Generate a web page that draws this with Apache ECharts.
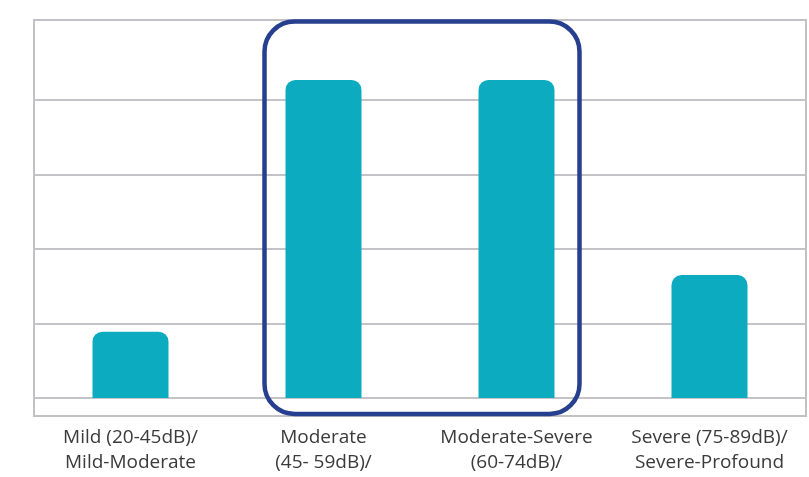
<!DOCTYPE html>
<html>
<head>
<meta charset="utf-8">
<script src="https://cdn.jsdelivr.net/npm/echarts@6/dist/echarts.min.js"></script>
<style>
  html, body { margin: 0; padding: 0; background: #ffffff; }
  #chart { width: 809px; height: 477px; }
</style>
</head>
<body>
<div id="chart"></div>
<script>
// Hearing-loss degree categories and their values
const categories = [
  'Mild (20-45dB)/\nMild-Moderate',
  'Moderate\n(45- 59dB)/',
  'Moderate-Severe\n(60-74dB)/',
  'Severe (75-89dB)/\nSevere-Profound'
];
const values = [8.9, 42.7, 42.7, 16.5];

// Value-axis gridline settings
const axisMin = 0;
const axisMax = 40;
const axisStep = 10;

const chart = echarts.init(document.getElementById('chart'), null, { renderer: 'canvas' });

chart.setOption({
  animation: false,
  backgroundColor: '#ffffff',
  grid: { left: 34, right: 3, top: 100, bottom: 79, containLabel: false },
  xAxis: {
    type: 'category',
    data: categories,
    axisLine: { show: false },
    axisTick: { show: false },
    axisLabel: {
      margin: 27,
      fontFamily: 'Open Sans',
      fontSize: 19,
      lineHeight: 25,
      color: '#3a3a3a',
      interval: 0
    }
  },
  yAxis: {
    type: 'value',
    min: axisMin,
    max: axisMax,
    interval: axisStep,
    axisLine: { show: false },
    axisTick: { show: false },
    axisLabel: { show: false },
    splitLine: { lineStyle: { color: '#c4c4c8', width: 2 } }
  },
  series: [{
    type: 'bar',
    data: values,
    barWidth: 76,
    clip: false,
    itemStyle: { color: '#0cabbf', borderRadius: [10, 10, 0, 0] }
  }],
  graphic: [
    {
      // chart frame
      type: 'rect',
      silent: true,
      shape: { x: 34, y: 20, width: 772, height: 396 },
      style: { fill: 'none', stroke: '#c2c2c6', lineWidth: 2 },
      z: 0
    },
    {
      // highlight around the two middle categories
      type: 'rect',
      silent: true,
      shape: { x: 264.5, y: 21.5, width: 315, height: 392.5, r: 30 },
      style: { fill: 'none', stroke: '#263f8e', lineWidth: 4.5 },
      z: 100
    }
  ]
});
</script>
</body>
</html>
